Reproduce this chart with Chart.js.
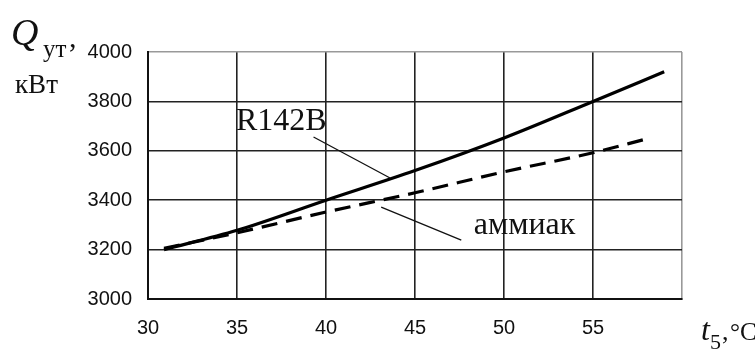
<!DOCTYPE html>
<html lang="ru">
<head>
    <meta charset="UTF-8">
    <title>Q_ут от t5</title>
    <script src="https://cdn.jsdelivr.net/npm/chart.js"></script>
    <style>
        body { margin: 0; background: #fff; }
        #wrap { width: 755px; height: 352px; }
    </style>
</head>
<body>
<div id="wrap"><canvas id="chart" width="755" height="352"></canvas></div>
<script>
    // data
    const r142bT = [30.9, 35, 40, 45, 50, 55, 59];
    const r142bQ = [3200, 3278, 3400, 3520, 3652, 3800, 3920];
    const ammT = [30.9, 35, 40, 45, 50, 55, 58];
    const ammQ = [3205, 3268, 3352, 3430, 3515, 3592, 3648];
    const xTicks = [30, 35, 40, 45, 50, 55];
    const yTicks = [3000, 3200, 3400, 3600, 3800, 4000];

    const serif = '"Liberation Serif", "Times New Roman", serif';
    const sans = '"Liberation Sans", Arial, sans-serif';

    const toPts = (xs, ys) => xs.map((x, i) => ({ x: x, y: ys[i] }));

    // labels, leader lines and axis titles
    const notes = {
        id: 'notes',
        afterDraw(chart) {
            const c = chart.ctx, xs = chart.scales.x, ys = chart.scales.y;
            const px = v => xs.getPixelForValue(v), py = v => ys.getPixelForValue(v);
            c.save();
            c.fillStyle = '#111';
            c.strokeStyle = '#111';
            c.lineWidth = 1.3;
            // leader lines (data units)
            c.beginPath();
            c.moveTo(px(39.3), py(3656)); c.lineTo(px(43.6), py(3490));
            c.moveTo(px(43.1), py(3372)); c.lineTo(px(47.6), py(3238));
            c.stroke();

            c.textBaseline = 'alphabetic';
            c.font = '32px ' + serif;
            c.fillText('R142B', px(35) - 1, py(3685));
            c.fillText('аммиак', px(48.3), py(3262));

            // y title
            c.font = 'italic 38px ' + serif;
            c.fillText('Q', 11, 45);
            c.font = '25px ' + serif;
            c.fillText('ут', 43, 57);
            c.font = '30px ' + serif;
            c.fillText(',', 69, 47);
            c.font = '27px ' + serif;
            c.fillText('кВт', 15, 93);

            // x title
            c.font = 'italic 32px ' + serif;
            c.fillText('t', 701, 340);
            c.font = '22px ' + serif;
            c.fillText('5', 710, 349);
            c.font = '26px ' + serif;
            c.fillText(',', 722, 340);
            c.font = '25px ' + serif;
            c.fillText('°C', 730, 340);
            c.restore();
        }
    };

    new Chart(document.getElementById('chart'), {
        type: 'line',
        data: {
            datasets: [{
                label: 'R142B',
                data: toPts(r142bT, r142bQ),
                borderColor: '#000',
                borderWidth: 3.2,
                pointRadius: 0,
                cubicInterpolationMode: 'monotone'
            }, {
                label: 'аммиак',
                data: toPts(ammT, ammQ),
                borderColor: '#000',
                borderWidth: 3.2,
                borderDash: [16, 9],
                pointRadius: 0,
                cubicInterpolationMode: 'monotone'
            }]
        },
        options: {
            responsive: false,
            animation: false,
            layout: { padding: { top: 52, right: 73, left: 0, bottom: 0 } },
            plugins: { legend: { display: false }, tooltip: { enabled: false } },
            scales: {
                x: {
                    type: 'linear',
                    min: 30, max: 60,
                    afterFit: s => { s.height = 53; },
                    afterBuildTicks: s => { s.ticks = xTicks.concat([60]).map(v => ({ value: v })); },
                    border: { color: '#111', width: 2 },
                    grid: {
                        drawTicks: false,
                        lineWidth: 1.6,
                        color: ctx => ctx.tick && ctx.tick.value === 60 ? '#999' : '#222'
                    },
                    ticks: {
                        padding: 17,
                        color: '#111',
                        font: { family: sans, size: 20 },
                        callback: v => xTicks.includes(v) ? String(v) : ''
                    }
                },
                y: {
                    min: 3000, max: 4000,
                    afterFit: s => { s.width = 148; },
                    afterBuildTicks: s => { s.ticks = yTicks.map(v => ({ value: v })); },
                    border: { color: '#111', width: 2 },
                    grid: {
                        drawTicks: false,
                        lineWidth: 1.6,
                        color: ctx => ctx.tick && ctx.tick.value === 4000 ? '#999' : '#222'
                    },
                    ticks: {
                        padding: 16,
                        color: '#111',
                        font: { family: sans, size: 20 },
                        callback: v => String(v)
                    }
                }
            }
        },
        plugins: [notes]
    });
</script>
</body>
</html>
